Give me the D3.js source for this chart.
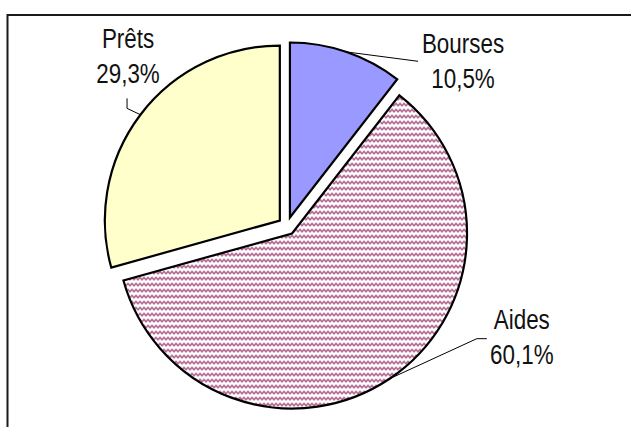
<!DOCTYPE html>
<html>
<head>
<meta charset="utf-8">
<script src="https://cdn.jsdelivr.net/npm/d3@7/dist/d3.min.js"></script>
<style>
  html, body { margin: 0; padding: 0; background: #fff; }
  svg { display: block; }
  .lbl { font-family: "Liberation Sans", Arial, sans-serif; font-size: 28px; fill: #111; }
</style>
</head>
<body>
<svg id="chart" width="631" height="427"></svg>
<script>
// Répartition des aides (en %)
const categories = ["Bourses", "Aides", "Prêts"];
const values = [10.5, 60.1, 29.3];
const valueLabels = ["10,5%", "60,1%", "29,3%"];

const W = 631, H = 427;
const cx = 287, cy = 226, R = 175, explode = 9;
const narrow = 0.8; // horizontal squeeze giving a condensed face

const fills = { "Bourses": "#9999FF", "Aides": "url(#wave)", "Prêts": "#FFFFCC" };

// Label placement: polar position (degrees clockwise from top, radius from pie centre)
const labelPos = {
  "Bourses": { angle: 48.5, radius: 235 },
  "Aides":   { angle: 117.2, radius: 264 },
  "Prêts":   { angle: 315.3, radius: 226 }
};
// Leader elbows, relative to each label's centre
const leaderElbow = {
  "Bourses": [[-45, -9]],
  "Aides":   [[-45, -8], [-35, -8]],
  "Prêts":   [[-1, 43], [-1, 33]]
};

const svg = d3.select("#chart");

// Wave hatch fill
const defs = svg.append("defs");
const pat = defs.append("pattern")
  .attr("id", "wave").attr("patternUnits", "userSpaceOnUse")
  .attr("width", 8).attr("height", 6);
pat.append("rect").attr("width", 8).attr("height", 6).attr("fill", "#fff");
pat.append("path")
  .attr("d", "M-2,4.2 L0,2 L2,4.2 L4,2 L6,4.2 L8,2 L10,4.2")
  .attr("fill", "none").attr("stroke", "#A4487C").attr("stroke-width", 1.4);

// Outer frame
svg.append("rect")
  .attr("x", 7.5).attr("y", 15).attr("width", W + 10).attr("height", H + 10)
  .attr("fill", "none").attr("stroke", "#1a1a1a").attr("stroke-width", 2);

const pie = d3.pie().sort(null).value(d => d.value);
const data = pie(categories.map((c, i) => ({ cat: c, value: values[i], label: valueLabels[i] })));
const arc = d3.arc().innerRadius(0).outerRadius(R);

const toXY = (deg, r) => {
  const a = deg * Math.PI / 180;
  return [r * Math.sin(a), -r * Math.cos(a)];
};

const g = svg.append("g").attr("transform", `translate(${cx},${cy})`);

data.forEach(d => {
  const mid = (d.startAngle + d.endAngle) / 2;
  d.offset = [explode * Math.sin(mid), -explode * Math.cos(mid)];
  d.mid = mid;
});

g.selectAll("path.slice")
  .data(data)
  .join("path")
  .attr("class", "slice")
  .attr("transform", d => `translate(${d.offset[0]},${d.offset[1]})`)
  .attr("d", arc)
  .attr("fill", d => fills[d.data.cat])
  .attr("stroke", "#000")
  .attr("stroke-width", 2.2)
  .attr("stroke-linejoin", "miter");

// Leader lines and labels
data.forEach(d => {
  const lp = labelPos[d.data.cat];
  const [lx, ly] = toXY(lp.angle, lp.radius);
  const start = [d.offset[0] + R * Math.sin(d.mid), d.offset[1] - R * Math.cos(d.mid)];
  const pts = [start].concat(leaderElbow[d.data.cat].map(p => [lx + p[0], ly + p[1]]));
  g.append("path")
    .attr("d", d3.line()(pts))
    .attr("fill", "none").attr("stroke", "#000").attr("stroke-width", 1);

  const t = g.append("text").attr("class", "lbl").attr("text-anchor", "middle")
    .attr("transform", `translate(${lx},${ly}) scale(${narrow},1)`);
  t.append("tspan").attr("x", 0).attr("dy", "-0.63em").text(d.data.cat);
  t.append("tspan").attr("x", 0).attr("dy", "1.25em").text(d.data.label);
});
</script>
</body>
</html>
